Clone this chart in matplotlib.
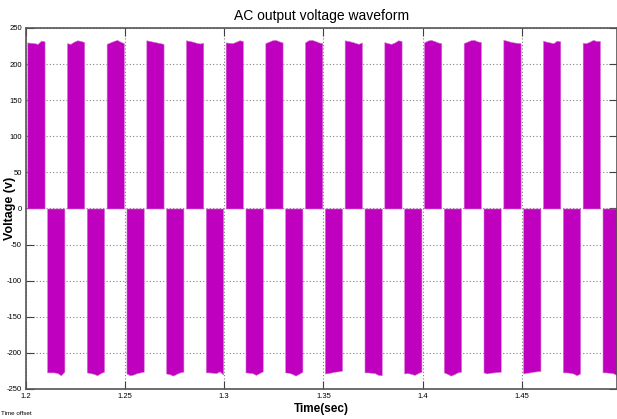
import matplotlib
matplotlib.use('Agg')
import matplotlib.pyplot as plt
import numpy as np

plt.rcParams['font.family'] = ['Liberation Sans', 'DejaVu Sans']
plt.rcParams['axes.unicode_minus'] = False

# start times of the conduction blocks (s)
pos_starts = [1.2007, 1.2207, 1.2407, 1.2607, 1.2807, 1.3007, 1.3207, 1.3407,
              1.3607, 1.3807, 1.4007, 1.4207, 1.4407, 1.4607, 1.4807]
neg_starts = [1.2107, 1.2307, 1.2507, 1.2707, 1.2907, 1.3107, 1.3307, 1.3507,
              1.3707, 1.3907, 1.4107, 1.4307, 1.4507, 1.4707, 1.4907, 1.5107]
block_width = 0.0087

# envelope of each block, read at 0, 20, 40, 60, 80, 100 % of its width (V)
env_frac = [0.0, 0.2, 0.4, 0.6, 0.8, 1.0]
pos_env = [
    [230, 229.5, 229, 228, 232.5, 231.5],
    [229, 228, 231, 233, 232, 230.5],
    [228, 230, 232, 233.5, 231, 229],
    [233, 232, 231, 230, 229, 228],
    [233, 232, 231, 229.5, 228.5, 229.5],
    [230, 229.5, 229, 231, 233, 232],
    [229, 231, 233, 233.5, 231.5, 230],
    [230, 233, 233.5, 232, 230, 229],
    [233, 232, 231, 229.5, 228, 230],
    [230.5, 229, 228, 230, 233, 232],
    [230, 232.5, 233.5, 232, 230, 229],
    [229, 231, 233, 233.5, 231.5, 230.5],
    [233.5, 232.5, 231, 230, 229.5, 229],
    [232.5, 231, 230, 229, 232.5, 231.5],
    [229.5, 229, 231, 233.5, 232, 232],
]
neg_env = [
    [-227, -227, -227, -228, -231, -226],
    [-227, -228, -229, -231, -228, -226],
    [-228.5, -231, -230, -228, -227, -226],
    [-228.5, -229.5, -231.5, -229, -227, -226],
    [-227, -227, -227.5, -228, -225.5, -230],
    [-227, -227.5, -228, -230.5, -228, -225.5],
    [-227, -227.5, -229, -231.5, -229, -226],
    [-228.5, -228, -227, -226, -225.5, -224.5],
    [-227, -227, -227.5, -228, -230.5, -231],
    [-228.5, -228, -229, -230.5, -228, -226],
    [-227, -229, -231.5, -229.5, -227, -226],
    [-227, -228.5, -227.5, -227, -226.5, -226],
    [-228.5, -227.5, -227, -226, -225.5, -225],
    [-227, -227, -227.5, -228.5, -231, -228.5],
    [-227, -227, -227.5, -228, -230.5, -231],
    [-227, -227, -228, -229, -230, -229],
]

xticks = [1.2, 1.25, 1.3, 1.35, 1.4, 1.45]
xticklabels = ['1.2', '1.25', '1.3', '1.35', '1.4', '1.45']
yticks = list(range(-250, 251, 50))

mag = '#BF00BF'
edge = '#D870D8'

fig = plt.figure(figsize=(6.17, 4.19), dpi=100)
ax = fig.add_axes([0.042, 0.0716, 0.958, 0.8616])

for starts, envs in [(pos_starts, pos_env), (neg_starts, neg_env)]:
    for s, e in zip(starts, envs):
        t = s + block_width * np.array(env_frac)
        ax.fill_between(t, 0, e, facecolor=mag, edgecolor=edge, lw=0.4)

ax.set_xlim(1.2, 1.498)
ax.set_ylim(-250, 250)
ax.set_xticks(xticks)
ax.set_xticklabels(xticklabels)
ax.set_yticks(yticks)
ax.grid(True, color='#808080', linestyle=(0, (1, 2)), lw=0.8)
ax.set_axisbelow(True)
ax.tick_params(direction='in', length=6, width=0.8, labelsize=5.5,
               top=True, right=True, colors='#404040', labelcolor='black', pad=3)
for sp in ax.spines.values():
    sp.set_color('#555555')
    sp.set_linewidth(1.2)

ax.set_title('AC output voltage waveform', fontsize=10, pad=6)
ax.set_ylabel('Voltage (v)', fontsize=9, fontweight='bold')
ax.yaxis.set_label_coords(-0.017, 0.5)
ax.set_xlabel('Time(sec)', fontsize=8.5, fontweight='bold', labelpad=2)
fig.text(0.002, 0.012, 'Time offset', fontsize=4.5, ha='left', va='center')

fig.savefig('out.png', dpi=100)
